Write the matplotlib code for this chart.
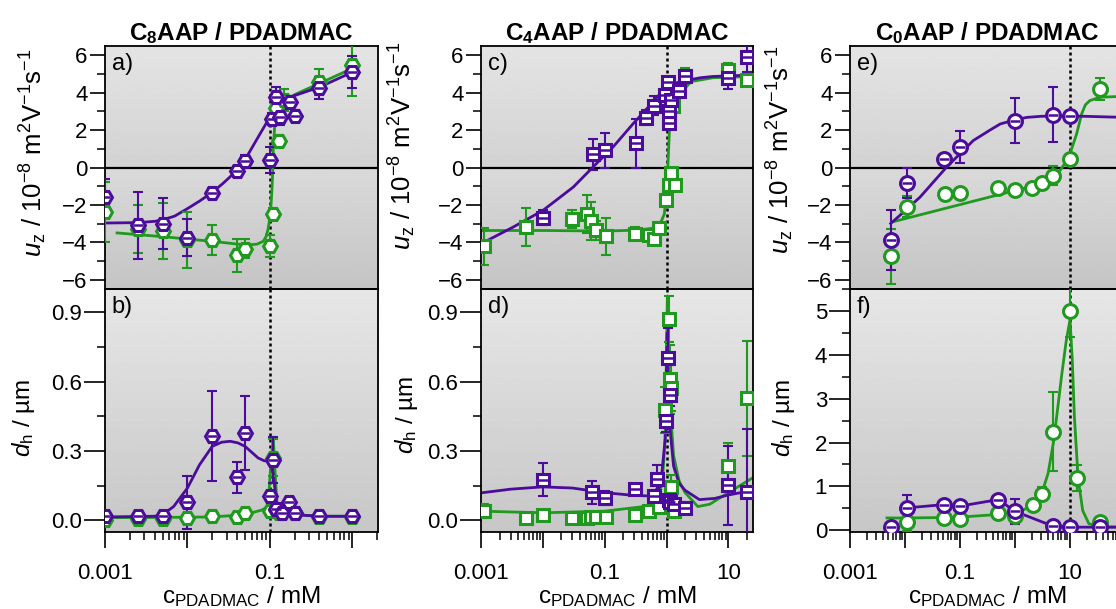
import numpy as np
import matplotlib
matplotlib.use("Agg")
import matplotlib.pyplot as plt
from matplotlib.ticker import FixedLocator, FuncFormatter, MultipleLocator, NullFormatter

plt.rcParams['font.family'] = ['Liberation Sans', 'DejaVu Sans']
plt.rcParams['mathtext.fontset'] = 'custom'
plt.rcParams['mathtext.rm'] = 'Liberation Sans'
plt.rcParams['mathtext.it'] = 'Liberation Sans:italic'
plt.rcParams['mathtext.bf'] = 'Liberation Sans:bold'

PURPLE = '#4b0c9b'
GREEN = '#1f9a1f'

# ---------------- data ----------------
titles = [r'C$_\mathbf{8}$AAP / PDADMAC', r'C$_\mathbf{4}$AAP / PDADMAC', r'C$_\mathbf{0}$AAP / PDADMAC']
top_letters = ['a)', 'c)', 'e)']
bot_letters = ['b)', 'd)', 'f)']
xtick_labels = ['0.001', '0.1', '10']
xtick_values = [0.001, 0.1, 10]
cmc = [0.1, 1.0, 10.0]

# Panel a (C8AAP, u_z)
xa_p = [0.001, 0.0025, 0.005, 0.01, 0.02, 0.04, 0.05, 0.1, 0.105, 0.12, 0.132, 0.175, 0.2, 0.4, 1.0]
ya_p = [-1.6, -3.1, -3.0, -3.76, -1.37, -0.2, 0.37, 0.4, 2.6, 3.76, 2.7, 3.5, 2.78, 4.26, 5.1]
ea_p = [1.0, 1.8, 1.35, 1.0, 0.25, 0.3, 0.3, 0.7, 0.3, 0.55, 0.4, 0.35, 0.3, 0.6, 0.85]
xa_g = [0.001, 0.0025, 0.005, 0.01, 0.02, 0.04, 0.05, 0.1, 0.11, 0.12, 0.13, 0.15, 0.4, 1.0]
ya_g = [-2.4, -3.3, -3.4, -3.9, -3.9, -4.7, -4.35, -4.2, -2.48, 3.2, 1.44, 3.6, 4.56, 5.5]
ea_g = [1.6, 1.3, 1.5, 1.5, 0.8, 0.9, 0.5, 0.6, 0.3, 0.9, 0.3, 0.6, 0.7, 1.7]
xa_pf = [0.001, 0.0025, 0.004, 0.005, 0.007, 0.01, 0.014, 0.02, 0.027, 0.036, 0.052, 0.076, 0.1, 0.11, 0.12, 0.15, 0.2, 0.4, 1.0]
ya_pf = [-2.97, -2.95, -2.88, -2.8, -2.6, -2.2, -1.8, -1.33, -0.85, -0.34, 0.55, 1.8, 2.7, 3.2, 3.6, 3.7, 3.85, 4.3, 5.1]
xa_gf = [0.0014, 0.005, 0.02, 0.052, 0.07, 0.083, 0.09, 0.095, 0.1, 0.103, 0.106, 0.108, 0.11, 0.115, 0.12, 0.15, 0.2, 0.4, 1.0]
ya_gf = [-3.5, -3.7, -3.95, -4.15, -4.1, -3.95, -3.7, -3.3, -2.7, -2.1, -1.2, -0.3, 1.0, 2.4, 3.0, 3.5, 3.9, 4.5, 5.3]

# Panel b (C8AAP, d_h)
xb_p = [0.001, 0.0025, 0.005, 0.01, 0.02, 0.04, 0.05, 0.1, 0.11, 0.12, 0.14, 0.17, 0.2, 0.4, 1.0]
yb_p = [0.017, 0.017, 0.017, 0.078, 0.364, 0.186, 0.378, 0.104, 0.26, 0.05, 0.03, 0.078, 0.032, 0.017, 0.017]
eb_p = [0.005, 0.005, 0.005, 0.115, 0.195, 0.067, 0.16, 0.02, 0.1, 0.01, 0.01, 0.01, 0.01, 0.01, 0.01]
xb_g = [0.001, 0.0025, 0.005, 0.01, 0.02, 0.04, 0.05, 0.1, 0.11, 0.12, 0.13, 0.2, 0.4, 1.0]
yb_g = [0.0, 0.005, 0.005, 0.01, 0.02, 0.015, 0.03, 0.04, 0.27, 0.045, 0.03, 0.03, 0.015, 0.015]
eb_g = [0.01, 0.01, 0.01, 0.01, 0.01, 0.01, 0.01, 0.01, 0.08, 0.01, 0.01, 0.01, 0.01, 0.01]
xb_pf = [0.001, 0.004, 0.005, 0.0068, 0.01, 0.014, 0.02, 0.026, 0.033, 0.041, 0.05, 0.06, 0.072, 0.085, 0.1, 0.11, 0.12, 0.14, 0.2, 0.4, 1.0]
yb_pf = [0.015, 0.018, 0.025, 0.06, 0.14, 0.24, 0.32, 0.338, 0.342, 0.335, 0.32, 0.295, 0.27, 0.258, 0.255, 0.2, 0.08, 0.04, 0.025, 0.018, 0.018]
xb_gf = [0.001, 0.005, 0.02, 0.05, 0.08, 0.095, 0.103, 0.11, 0.116, 0.122, 0.13, 0.2, 0.4, 1.0]
yb_gf = [0.012, 0.013, 0.015, 0.025, 0.045, 0.06, 0.25, 0.36, 0.2, 0.07, 0.04, 0.025, 0.018, 0.018]

# Panel c (C4AAP, u_z)
xc_p = [0.01, 0.065, 0.1, 0.32, 0.47, 0.62, 0.96, 1.05, 1.08, 1.1, 1.2, 1.6, 2.0, 10, 20]
yc_p = [-2.69, 0.7, 0.91, 1.3, 2.66, 3.3, 3.9, 4.56, 2.4, 3.0, 3.6, 4.1, 4.87, 4.78, 5.9]
ec_p = [0.4, 0.85, 0.95, 1.3, 0.4, 0.5, 0.3, 0.3, 0.3, 0.3, 0.3, 0.4, 0.3, 0.6, 0.8]
xc_g = [0.0011, 0.0053, 0.03, 0.051, 0.059, 0.072, 0.106, 0.305, 0.52, 0.62, 0.75, 0.99, 1.08, 1.18, 1.36, 1.25, 2.0, 10, 20]
yc_g = [-4.22, -3.19, -2.75, -2.48, -2.87, -3.37, -3.69, -3.55, -3.6, -3.81, -3.24, -1.73, -0.96, -0.3, -0.96, 3.3, 4.9, 5.2, 4.69]
ec_g = [1.0, 1.0, 0.5, 1.0, 1.0, 0.5, 1.0, 0.35, 0.3, 0.3, 0.3, 0.3, 0.3, 0.3, 0.3, 0.3, 0.4, 0.4, 0.3]
xc_pf = [0.001, 0.0033, 0.01, 0.031, 0.073, 0.136, 0.286, 0.6, 0.97, 1.4, 2.1, 3.5, 5.6, 25]
yc_pf = [-4.08, -3.19, -2.3, -1.05, 0.2, 1.09, 2.33, 3.5, 4.3, 4.52, 4.66, 4.8, 4.87, 4.95]
xc_gf = [0.001, 0.01, 0.1, 0.35, 0.6, 0.78, 0.92, 0.99, 1.05, 1.12, 1.3, 1.6, 2.5, 5.6, 25]
yc_gf = [-3.37, -3.37, -3.4, -3.35, -3.25, -3.05, -2.5, -1.4, 0.05, 2.2, 3.3, 3.9, 4.6, 4.8, 4.87]

# Panel d (C4AAP, d_h)
xd_p = [0.01, 0.062, 0.1, 0.31, 0.62, 0.70, 0.99, 1.05, 1.12, 1.08, 1.15, 1.3, 2.0, 10, 20]
yd_p = [0.176, 0.121, 0.097, 0.136, 0.104, 0.18, 0.43, 0.70, 0.544, 0.09, 0.08, 0.072, 0.054, 0.152, 0.123]
ed_p = [0.07, 0.05, 0.03, 0.02, 0.02, 0.06, 0.05, 0.13, 0.05, 0.03, 0.03, 0.02, 0.02, 0.17, 0.27]
xd_g = [0.0011, 0.0053, 0.01, 0.03, 0.051, 0.059, 0.072, 0.106, 0.305, 0.52, 0.75, 0.95, 1.08, 1.15, 1.2, 1.2, 1.3, 10, 20]
yd_g = [0.042, 0.01, 0.025, 0.012, 0.012, 0.015, 0.015, 0.013, 0.025, 0.042, 0.06, 0.476, 0.87, 0.61, 0.573, 0.145, 0.04, 0.234, 0.527]
ed_g = [0.03, 0.01, 0.01, 0.01, 0.01, 0.01, 0.01, 0.01, 0.01, 0.01, 0.02, 0.1, 0.1, 0.15, 0.1, 0.05, 0.02, 0.1, 0.25]
xd_pf = [0.001, 0.003, 0.01, 0.03, 0.1, 0.3, 0.5, 0.8, 0.95, 1.02, 1.1, 1.3, 1.6, 2.0, 3.4, 6.0, 10, 25]
yd_pf = [0.119, 0.135, 0.145, 0.14, 0.12, 0.108, 0.106, 0.147, 0.35, 0.81, 0.436, 0.234, 0.16, 0.13, 0.09, 0.095, 0.11, 0.13]
xd_gf = [0.001, 0.01, 0.1, 0.5, 0.85, 0.95, 1.0, 1.03, 1.07, 1.1, 1.3, 1.6, 2.0, 3.2, 5.0, 10, 25]
yd_gf = [0.04, 0.033, 0.04, 0.062, 0.15, 0.36, 0.75, 0.97, 0.85, 0.56, 0.28, 0.17, 0.12, 0.06, 0.07, 0.12, 0.185]

# Panel e (C0AAP, u_z)
xe_p = [0.0055, 0.0107, 0.052, 0.1, 1.0, 5.0, 10]
ye_p = [-3.87, -0.84, 0.46, 1.09, 2.5, 2.83, 2.76]
ee_p = [1.6, 0.8, 0.1, 0.85, 1.2, 1.45, 0.1]
xe_g = [0.0055, 0.0107, 0.053, 0.1, 0.5, 1.0, 2.0, 3.1, 5.0, 10, 35]
ye_g = [-4.76, -2.09, -1.41, -1.37, -1.09, -1.23, -1.09, -0.84, -0.43, 0.43, 4.2]
ee_g = [1.45, 0.55, 0.05, 0.05, 0.05, 0.05, 0.05, 0.1, 0.5, 0.1, 0.6]
xe_pf = [0.0055, 0.0187, 0.057, 0.174, 0.35, 0.54, 1.0, 1.63, 3.0, 10, 100]
ye_pf = [-3.0, -1.59, 0.02, 1.44, 2.0, 2.33, 2.55, 2.68, 2.74, 2.76, 2.68]
xe_gf = [0.0061, 1.01, 2.5, 3.77, 5.0, 6.58, 8.0, 10, 13.2, 16.3, 19, 23, 35, 100]
ye_gf = [-2.9, -1.23, -0.95, -0.69, -0.45, -0.16, 0.2, 0.73, 1.8, 2.87, 3.35, 3.58, 3.76, 3.81]

# Panel f (C0AAP, d_h)
xf_p = [0.0055, 0.0107, 0.052, 0.1, 0.5, 1.0, 5.0, 10, 35]
yf_p = [0.07, 0.51, 0.585, 0.55, 0.70, 0.43, 0.09, 0.07, 0.07]
ef_p = [0.05, 0.3, 0.05, 0.05, 0.08, 0.28, 0.05, 0.05, 0.05]
xf_g = [0.0107, 0.052, 0.1, 0.5, 1.0, 2.1, 3.05, 5.0, 10, 13.2, 35]
yf_g = [0.18, 0.28, 0.26, 0.40, 0.33, 0.585, 0.83, 2.25, 5.0, 1.19, 0.18]
ef_g = [0.2, 0.05, 0.05, 0.05, 0.1, 0.05, 0.15, 0.9, 0.6, 0.3, 0.05]
xf_pf = [0.0107, 0.052, 0.1, 0.5, 1.0, 5.0, 10, 35, 100]
yf_pf = [0.51, 0.585, 0.55, 0.70, 0.43, 0.09, 0.07, 0.07, 0.07]
xf_gf = [0.0047, 0.0107, 0.052, 0.1, 0.5, 1.0, 2.0, 3.0, 4.0, 5.0, 6.0, 7.0, 8.5, 10, 11, 12, 14, 17, 22, 35, 100]
yf_gf = [0.28, 0.28, 0.29, 0.3, 0.36, 0.38, 0.55, 0.8, 1.3, 2.0, 2.8, 3.5, 4.3, 4.8, 3.9, 2.6, 1.2, 0.45, 0.15, 0.08, 0.07]

# ---------------- layout ----------------
W, H = 1116, 609
fig = plt.figure(figsize=(W / 100, H / 100), dpi=100)

cols_px = [(105, 378), (481, 753), (850, 1125)]
xlims = [(0.001, 2.05), (0.001, 25), (0.001, 100)]
top_px = (46, 289)
bot_px = (289, 532)
bot_ylims = [(-0.05, 1.0), (-0.05, 1.0), (-0.04, 5.5)]


def rect(xpx, ypx):
    return [xpx[0] / W, 1 - ypx[1] / H, (xpx[1] - xpx[0]) / W, (ypx[1] - ypx[0]) / H]


def gradient_axes(r, segments):
    bg = fig.add_axes(r, zorder=0)
    bg.set_axis_off()
    for (y0, y1, ctop, cbot) in segments:
        col = np.linspace(cbot, ctop, 256).reshape(-1, 1)
        bg.imshow(col, extent=[0, 1, y0, y1], origin='lower', cmap='gray',
                  vmin=0, vmax=1, aspect='auto', interpolation='bilinear')
    bg.set_xlim(0, 1)
    bg.set_ylim(0, 1)


def log_xaxis(ax, xlim, show):
    ax.set_xscale('log')
    ax.set_xlim(*xlim)
    lo, hi = np.log10(xlim[0]), np.log10(xlim[1])
    majors = [10.0 ** k for k in range(int(np.floor(lo)), int(np.ceil(hi)) + 1)]
    minors = [m * 10.0 ** k for k in range(int(np.floor(lo)), int(np.ceil(hi)) + 1) for m in range(2, 10)]
    ax.xaxis.set_major_locator(FixedLocator(majors))
    ax.xaxis.set_minor_locator(FixedLocator(minors))
    lab = dict(zip(xtick_values, xtick_labels))

    def fmt(v, pos):
        for k, s in lab.items():
            if abs(np.log10(v) - np.log10(k)) < 1e-6:
                return s
        return ''
    ax.xaxis.set_major_formatter(FuncFormatter(fmt))
    ax.xaxis.set_minor_formatter(NullFormatter())
    if show:
        ax.tick_params(axis='x', which='major', direction='out', length=11.5, width=1.2,
                       labelsize=16, pad=11)
        ax.tick_params(axis='x', which='minor', direction='out', length=5.8, width=1.1)
    else:
        ax.tick_params(axis='x', which='both', bottom=False, labelbottom=False)


def series(ax, x, y, e, color, marker, ms, stripe):
    ax.errorbar(x, y, yerr=e, fmt='none', ecolor=color, elinewidth=1.5,
                capsize=3.5, capthick=1.5, zorder=3)
    ax.plot(x, y, ls='none', marker=marker, ms=ms, mfc='white', mec=color,
            mew=2.2, zorder=4)
    if stripe:
        ax.plot(x, y, ls='none', marker='_', ms=ms * 0.75, mec=color, mew=1.8, zorder=5)


def fit(ax, x, y, color):
    ax.plot(x, y, color=color, lw=2.0, zorder=2.5, solid_joinstyle='round')


top_data = [
    (xa_p, ya_p, ea_p, xa_g, ya_g, ea_g, xa_pf, ya_pf, xa_gf, ya_gf, 'H', 10),
    (xc_p, yc_p, ec_p, xc_g, yc_g, ec_g, xc_pf, yc_pf, xc_gf, yc_gf, 's', 9),
    (xe_p, ye_p, ee_p, xe_g, ye_g, ee_g, xe_pf, ye_pf, xe_gf, ye_gf, 'o', 10),
]
bot_data = [
    (xb_p, yb_p, eb_p, xb_g, yb_g, eb_g, xb_pf, yb_pf, xb_gf, yb_gf, 'H', 10),
    (xd_p, yd_p, ed_p, xd_g, yd_g, ed_g, xd_pf, yd_pf, xd_gf, yd_gf, 's', 9),
    (xf_p, yf_p, ef_p, xf_g, yf_g, ef_g, xf_pf, yf_pf, xf_gf, yf_gf, 'o', 10),
]

ylab_top_pos = [(-0.205, 0.56), (-0.232, 0.59), (-0.196, 0.575)]
ylab_bot_pos = [(-0.25, 0.47), (-0.224, 0.48), (-0.194, 0.47)]

for i in range(3):
    # ---- top panel ----
    r = rect(cols_px[i], top_px)
    gradient_axes(r, [(0.5, 1.0, 0.895, 0.825), (0.0, 0.5, 0.855, 0.77)])
    ax = fig.add_axes(r, zorder=1)
    ax.patch.set_alpha(0)
    log_xaxis(ax, xlims[i], False)
    ax.set_ylim(-6.5, 6.5)
    ax.yaxis.set_major_locator(MultipleLocator(2))
    ax.yaxis.set_minor_locator(MultipleLocator(1))
    ax.tick_params(axis='y', which='major', direction='out', length=11, width=1.2,
                   labelsize=16, pad=1.5)
    ax.tick_params(axis='y', which='minor', direction='out', length=5.8, width=1.1)
    ax.axhline(0, color='black', lw=1.6, zorder=1.5)
    ax.axvline(cmc[i], color='black', lw=1.8, ls=(0, (1.2, 1.2)), zorder=1.6)
    (xp, yp, ep, xg, yg, eg, xpf, ypf, xgf, ygf, mk, ms) = top_data[i]
    fit(ax, xgf, ygf, GREEN)
    series(ax, xg, yg, eg, GREEN, mk, ms, False)
    fit(ax, xpf, ypf, PURPLE)
    series(ax, xp, yp, ep, PURPLE, mk, ms, True)
    for s in ax.spines.values():
        s.set_linewidth(1.3)
    ax.set_ylabel(r'$u_\mathrm{z}$ / 10$^{-8}$ m$^2$V$^{-1}$s$^{-1}$', fontsize=18.5)
    ax.yaxis.set_label_coords(*ylab_top_pos[i])
    ax.text(0.025, 0.97, top_letters[i], transform=ax.transAxes, fontsize=17,
            va='top', ha='left', zorder=6)
    ax.set_title(titles[i], fontsize=17.5, fontweight='bold', pad=4)

    # ---- bottom panel ----
    r = rect(cols_px[i], bot_px)
    gradient_axes(r, [(0.0, 1.0, 0.905, 0.78)])
    ax = fig.add_axes(r, zorder=1)
    ax.patch.set_alpha(0)
    log_xaxis(ax, xlims[i], True)
    ax.set_ylim(*bot_ylims[i])
    if i < 2:
        ax.yaxis.set_major_locator(MultipleLocator(0.3))
        ax.yaxis.set_minor_locator(MultipleLocator(0.15))
        ax.yaxis.set_major_formatter(FuncFormatter(lambda v, p: f'{v:.1f}'))
    else:
        ax.yaxis.set_major_locator(MultipleLocator(1))
        ax.yaxis.set_minor_locator(MultipleLocator(0.5))
        ax.yaxis.set_major_formatter(FuncFormatter(lambda v, p: f'{v:.0f}'))
    ax.tick_params(axis='y', which='major', direction='out', length=15, width=1.2,
                   labelsize=16, pad=1.5)
    ax.tick_params(axis='y', which='minor', direction='out', length=5.8, width=1.1)
    ax.axvline(cmc[i], color='black', lw=1.8, ls=(0, (1.2, 1.2)), zorder=1.6)
    (xp, yp, ep, xg, yg, eg, xpf, ypf, xgf, ygf, mk, ms) = bot_data[i]
    fit(ax, xgf, ygf, GREEN)
    series(ax, xg, yg, eg, GREEN, mk, ms, False)
    fit(ax, xpf, ypf, PURPLE)
    series(ax, xp, yp, ep, PURPLE, mk, ms, True)
    for s in ax.spines.values():
        s.set_linewidth(1.3)
    ax.set_ylabel(r'$d_\mathrm{h}$ / µm', fontsize=17.5)
    ax.yaxis.set_label_coords(*ylab_bot_pos[i])
    ax.set_xlabel(r'c$_\mathrm{PDADMAC}$ / mM', fontsize=17.5, labelpad=0)
    ax.text(0.025, 0.97, bot_letters[i], transform=ax.transAxes, fontsize=17,
            va='top', ha='left', zorder=6)

fig.savefig('out.png', dpi=100)
